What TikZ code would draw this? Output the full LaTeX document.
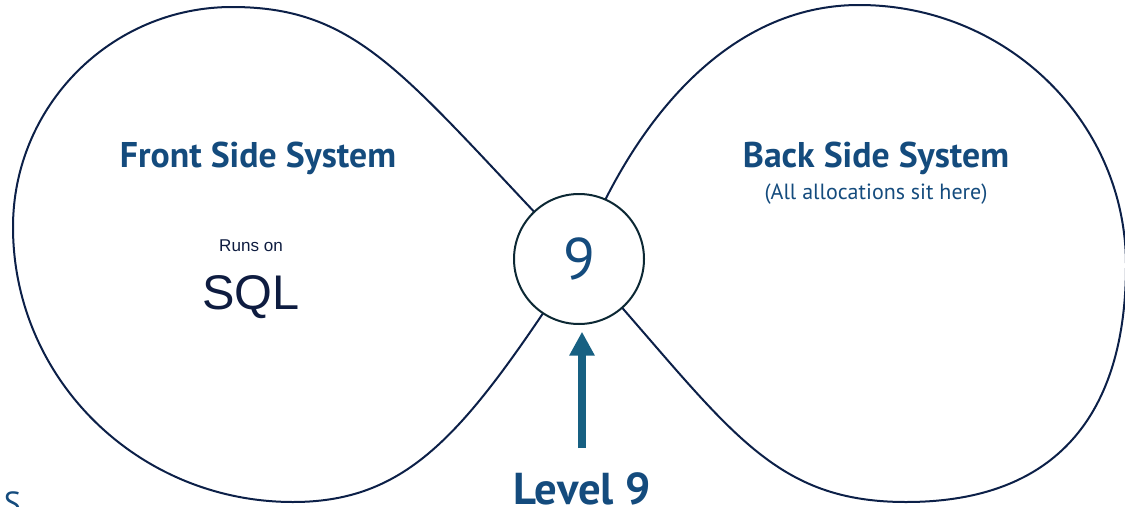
\documentclass[tikz,border=0pt]{standalone}
\usepackage{fontspec}
\setmainfont{PT Sans}
\newfontfamily\dinfont{PT Sans}
\newfontfamily\sqlfont{Liberation Sans}
\usetikzlibrary{arrows.meta}

\definecolor{loopline}{RGB}{12,32,72}
\definecolor{ringline}{RGB}{12,40,52}
\definecolor{titleblue}{RGB}{20,75,125}
\definecolor{arrowblue}{RGB}{23,96,130}
\definecolor{textnavy}{RGB}{14,28,64}

\tikzset{every picture/.style={line width=0.75pt}}
\tikzset{
  loop/.style={draw=loopline, line width=1.5},
  ring/.style={circle, draw=ringline, fill=white, line width=1.5, minimum size=97.5pt, inner sep=0pt,
    text=titleblue, font=\dinfont\fontsize{44}{44}\selectfont},
  sidetitle/.style={text=titleblue, font=\dinfont\bfseries\fontsize{26.8}{28}\selectfont},
  sidenote/.style={text=titleblue, font=\dinfont\fontsize{16.5}{18}\selectfont},
  runsnote/.style={text=textnavy, font=\sqlfont\fontsize{12.8}{14}\selectfont},
  bignote/.style={text=textnavy, font=\sqlfont\fontsize{36.5}{38}\selectfont},
  levelnote/.style={text=titleblue, font=\dinfont\bfseries\fontsize{33.5}{34}\selectfont},
  uparrow/.style={-{Triangle[length=18pt,width=18pt]}, draw=arrowblue, line width=6.5pt},
}

\begin{document}
\begin{tikzpicture}[x=0.75pt,y=0.75pt,yscale=-1,xscale=1]
\useasboundingbox (0,0) rectangle (1125,507);

%Shape: Left loop
\draw [loop] (579,259) .. controls (406,79) and (362,7) .. (232,7) .. controls (111,7) and (13,106) .. (13,227) .. controls (13,379) and (138,502) .. (293,502) .. controls (413,502) and (469,427) .. (579,259) -- cycle ;
%Shape: Right loop
\draw [loop] (579,259) .. controls (633,119) and (729,5) .. (859,5) .. controls (1006,5) and (1126,121) .. (1126,265) .. controls (1126,415) and (1056,502) .. (906,502) .. controls (766,502) and (726,422) .. (579,259) -- cycle ;

%Circle in the middle
\node [ring] (nine) at (579,259) {9};

% Text Node
\node [sidetitle] (front) at (258,158) {Front Side System};
% Text Node
\node [runsnote] (runs) at (251,246) {Runs on};
% Text Node
\node [bignote] (sql) at (251,297) {SQL};
% Text Node
\node [sidetitle] (back) at (876,158) {Back Side System};
% Text Node
\node [sidenote] (alloc) at (876,194) {(All allocations sit here)};
% Text Node
\node [levelnote, anchor=base] (level) at (582,504) {Level 9};
% Text Node
\node [sidenote, anchor=base west, font=\dinfont\fontsize{24}{26}\selectfont] (cut) at (-1,514) {S};

%Arrow
\coordinate (foot) at (582,448);
\draw [uparrow, shorten >=5pt] (foot) -- (foot |- nine.south);

\end{tikzpicture}
\end{document}
